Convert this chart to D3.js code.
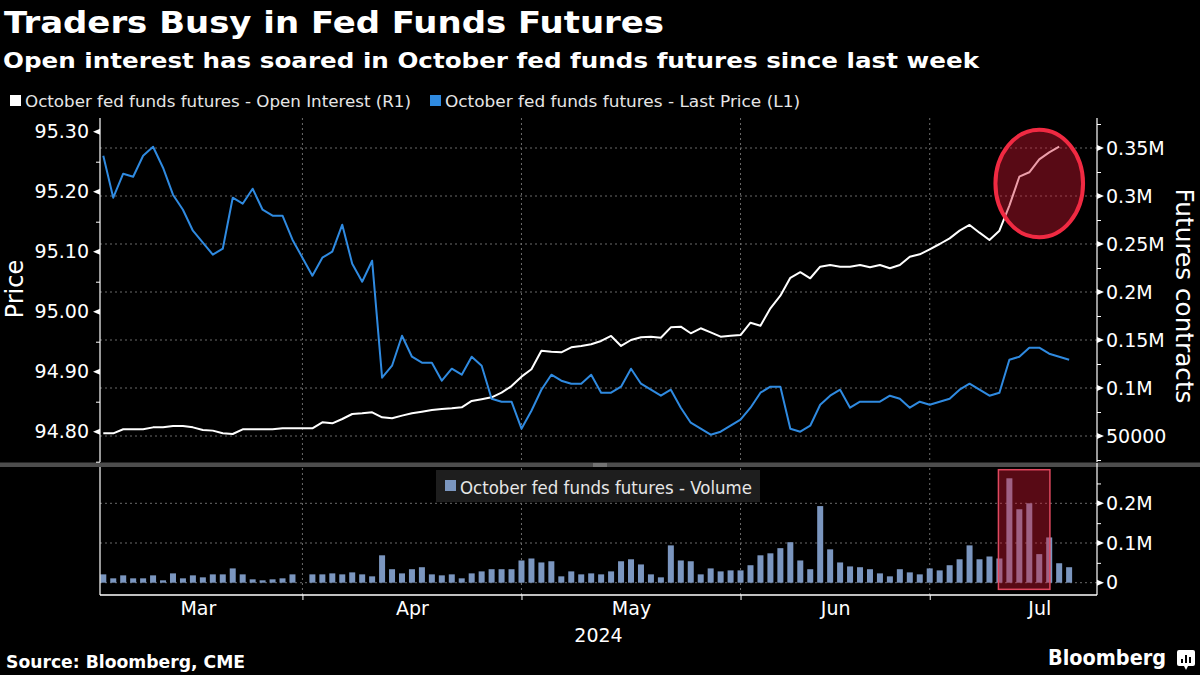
<!DOCTYPE html>
<html><head><meta charset="utf-8">
<script src="https://cdn.jsdelivr.net/npm/d3@7"></script>
<style>
html,body{margin:0;padding:0;background:#000;}
svg{display:block;}
</style>
</head><body>
<svg id="chart" width="1200" height="675"></svg>
<script>
// ---------------- DATA ----------------
const dates = [
"2024-03-01","2024-03-04","2024-03-05","2024-03-06","2024-03-07","2024-03-08","2024-03-11","2024-03-12","2024-03-13","2024-03-14",
"2024-03-15","2024-03-18","2024-03-19","2024-03-20","2024-03-21","2024-03-22","2024-03-25","2024-03-26","2024-03-27","2024-03-28",
"2024-03-29","2024-04-01","2024-04-02","2024-04-03","2024-04-04","2024-04-05","2024-04-08","2024-04-09","2024-04-10","2024-04-11",
"2024-04-12","2024-04-15","2024-04-16","2024-04-17","2024-04-18","2024-04-19","2024-04-22","2024-04-23","2024-04-24","2024-04-25",
"2024-04-26","2024-04-29","2024-04-30","2024-05-01","2024-05-02","2024-05-03","2024-05-06","2024-05-07","2024-05-08","2024-05-09",
"2024-05-10","2024-05-13","2024-05-14","2024-05-15","2024-05-16","2024-05-17","2024-05-20","2024-05-21","2024-05-22","2024-05-23",
"2024-05-24","2024-05-28","2024-05-29","2024-05-30","2024-05-31","2024-06-03","2024-06-04","2024-06-05","2024-06-06","2024-06-07",
"2024-06-10","2024-06-11","2024-06-12","2024-06-13","2024-06-14","2024-06-17","2024-06-18","2024-06-20","2024-06-21","2024-06-24",
"2024-06-25","2024-06-26","2024-06-27","2024-06-28","2024-07-01","2024-07-02","2024-07-03","2024-07-05","2024-07-08","2024-07-09",
"2024-07-10","2024-07-11","2024-07-12","2024-07-15","2024-07-16","2024-07-17","2024-07-18","2024-07-19"
];

// Last price (left axis)
const lastPrice = [
95.260,95.190,95.230,95.225,95.260,95.275,95.240,95.195,95.170,95.135,
95.115,95.095,95.105,95.190,95.180,95.205,95.170,95.160,95.160,95.120,
95.090,95.060,95.090,95.100,95.145,95.080,95.050,95.085,94.890,94.910,
94.960,94.925,94.915,94.915,94.885,94.905,94.895,94.925,94.910,94.855,
94.850,94.850,94.805,94.835,94.870,94.895,94.885,94.880,94.880,94.895,
94.865,94.865,94.875,94.905,94.880,94.870,94.860,94.870,94.840,94.815,
94.805,94.795,94.800,94.810,94.820,94.840,94.865,94.875,94.875,94.805,
94.800,94.810,94.845,94.860,94.870,94.840,94.850,94.850,94.850,94.860,
94.855,94.840,94.850,94.845,94.850,94.855,94.870,94.880,94.870,94.860,
94.865,94.920,94.925,94.940,94.940,94.930,94.925,94.920
];

// Open interest (right axis)
const openInterest = [
52800,52800,57000,57000,57000,59000,59000,60400,60400,59000,
56300,55600,52800,52100,57000,57000,57000,57000,58000,58000,
58000,58000,64200,63200,67700,72900,73600,74700,69500,68400,
71200,73600,75300,77100,78100,78800,79900,86500,88300,90300,
95100,102000,111800,119500,138900,137800,137200,142400,143800,145500,
149000,154200,143800,150000,152800,153500,152400,163200,163900,157000,
162200,158000,153500,154500,155200,168000,164900,183000,196100,214800,
220600,214300,226400,228100,226400,226400,228100,225700,228100,224700,
228100,236800,239300,244500,250000,255900,263900,269800,261800,254200,
263900,290000,320100,324700,338200,345500,351400,null
];

// Volume (lower panel)
const volume = [
21000,11000,18500,11000,11000,18500,6000,23500,11000,18500,
13500,21000,21000,36000,21000,8500,6000,8500,11000,21000,
null,21000,21000,23500,21000,26000,21000,16000,69000,34000,
23500,34000,39000,21000,18500,21000,11000,23500,28500,34000,
34000,34000,56000,61000,51000,54000,16000,28500,21000,23500,
21000,28500,54000,59000,46000,21000,13500,94000,56000,54000,
21000,36000,28500,31000,31000,44000,69000,74000,87000,102000,
56000,34000,193000,84000,51000,41000,39000,34000,23500,16000,
34000,26000,21000,36000,31000,44000,59000,94000,59000,66000,
61000,263000,185000,200000,72000,114000,49000,39000
];

const priceTicks = [94.80, 94.90, 95.00, 95.10, 95.20, 95.30];
const oiTicks = [50000, 100000, 150000, 200000, 250000, 300000, 350000];
const oiTickLabels = ["50000", "0.1M", "0.15M", "0.2M", "0.25M", "0.3M", "0.35M"];
const volTicks = [0, 100000, 200000];
const volTickLabels = ["0", "0.1M", "0.2M"];
const months = ["Mar", "Apr", "May", "Jun", "Jul"];
const monthTradingDays = [21, 22, 22, 19, 22];
const yearLabel = "2024";

// highlight annotations (data space)
const circleIdx = [89.6, 98.4];
const circleOI = [257000, 369000];
const boxIdx = [89.9, 95.07];
const boxVol = [-16700, 284600];

// ---------------- CHART ----------------
const FONT = "'DejaVu Sans', Verdana, sans-serif";
const svg = d3.select("#chart").style("font-family", FONT);
svg.append("rect").attr("width", 1200).attr("height", 675).attr("fill", "#000");

const L = 100, R = 1097, TOP = 118, MID = 462, VTOP = 467, BOT = 595;

const x = d3.scaleLinear().domain([-0.33, 99.8]).range([L, R]);
const yL = d3.scaleLinear().domain([94.8, 95.3]).range([431.7, 131.7]);
const yR = d3.scaleLinear().domain([50000, 350000]).range([436, 148]);
const yV = d3.scaleLinear().domain([0, 200000]).range([582.7, 503.3]);

// month boundaries
const bounds = [-1];
monthTradingDays.forEach(n => bounds.push(bounds[bounds.length - 1] + n));
const monthTicks = bounds.slice(1, months.length);
const monthCenters = months.map((m, i) => (bounds[i] + bounds[i + 1]) / 2);

const defs = svg.append("defs");
defs.append("clipPath").attr("id", "clipTop").append("rect")
  .attr("x", L).attr("y", TOP).attr("width", R - L).attr("height", MID - TOP);
defs.append("clipPath").attr("id", "clipBot").append("rect")
  .attr("x", L).attr("y", VTOP).attr("width", R - L).attr("height", BOT - VTOP);

const GRID = "#6b6b6b";
// horizontal gridlines
svg.append("g").selectAll("line").data(oiTicks).join("line")
  .attr("x1", L).attr("x2", R).attr("y1", d => yR(d)).attr("y2", d => yR(d))
  .attr("stroke", GRID).attr("stroke-width", 1).attr("stroke-dasharray", "2,3");
svg.append("g").selectAll("line").data(volTicks).join("line")
  .attr("x1", L).attr("x2", R).attr("y1", d => yV(d)).attr("y2", d => yV(d))
  .attr("stroke", GRID).attr("stroke-width", 1).attr("stroke-dasharray", "2,3");
// vertical gridlines
svg.append("g").selectAll("line").data(monthTicks).join("line")
  .attr("x1", d => x(d)).attr("x2", d => x(d)).attr("y1", TOP).attr("y2", BOT)
  .attr("stroke", GRID).attr("stroke-width", 1).attr("stroke-dasharray", "2,3");

// volume bars
svg.append("g").attr("clip-path", "url(#clipBot)")
  .selectAll("rect").data(volume.map((v, i) => ({v, i})).filter(d => d.v != null)).join("rect")
  .attr("x", d => x(d.i) - 3).attr("width", 6)
  .attr("y", d => yV(d.v)).attr("height", d => yV(0) - yV(d.v))
  .attr("fill", "#7b96bf");

// lines
const gTop = svg.append("g").attr("clip-path", "url(#clipTop)");
gTop.append("path").datum(openInterest)
  .attr("d", d3.line().defined(d => d != null).x((d, i) => x(i)).y(d => yR(d)))
  .attr("fill", "none").attr("stroke", "#ffffff").attr("stroke-width", 2)
  .attr("stroke-linejoin", "round");
gTop.append("path").datum(lastPrice)
  .attr("d", d3.line().defined(d => d != null).x((d, i) => x(i)).y(d => yL(d)))
  .attr("fill", "none").attr("stroke", "#2f8ae0").attr("stroke-width", 2)
  .attr("stroke-linejoin", "round");

// annotations
svg.append("ellipse")
  .attr("cx", (x(circleIdx[0]) + x(circleIdx[1])) / 2)
  .attr("cy", (yR(circleOI[0]) + yR(circleOI[1])) / 2)
  .attr("rx", (x(circleIdx[1]) - x(circleIdx[0])) / 2)
  .attr("ry", (yR(circleOI[0]) - yR(circleOI[1])) / 2)
  .attr("fill", "rgba(210,25,50,0.42)").attr("stroke", "#f02a42").attr("stroke-width", 4);
svg.append("rect")
  .attr("x", x(boxIdx[0])).attr("width", x(boxIdx[1]) - x(boxIdx[0]))
  .attr("y", yV(boxVol[1])).attr("height", yV(boxVol[0]) - yV(boxVol[1]))
  .attr("fill", "rgba(210,25,50,0.42)").attr("stroke", "#e0485f").attr("stroke-width", 1.5);

// divider
svg.append("rect").attr("x", 0).attr("y", MID + 0.5).attr("width", 1200).attr("height", 4.5).attr("fill", "#4d4d4d");
svg.append("line").attr("x1", 593).attr("x2", 607).attr("y1", 464).attr("y2", 464).attr("stroke", "#9a9a9a").attr("stroke-width", 1);
svg.append("line").attr("x1", 593).attr("x2", 607).attr("y1", 466).attr("y2", 466).attr("stroke", "#9a9a9a").attr("stroke-width", 1);

// ---------- axes ----------
function styleAxis(g, size) {
  g.attr("font-family", FONT).attr("font-size", size);
  g.selectAll("text").attr("fill", "#ffffff");
  g.selectAll("line").attr("stroke", "#ffffff");
  g.select(".domain").remove();
}
// left axis (price)
const gL = svg.append("g").attr("transform", `translate(${L},0)`)
  .call(d3.axisLeft(yL).tickValues(priceTicks).tickFormat(d3.format(".2f")).tickSize(0).tickPadding(11));
styleAxis(gL, 19);
const priceMinor = priceTicks.map(t => t - 0.05);
const gLm = svg.append("g").attr("transform", `translate(${L},0)`)
  .call(d3.axisLeft(yL).tickValues(priceMinor).tickFormat("").tickSize(4));
styleAxis(gLm, 10);
gL.selectAll("path.tri").data(priceTicks).join("path").attr("class", "tri")
  .attr("d", d => `M0,${yL(d) - 3}L-7,${yL(d)}L0,${yL(d) + 3}Z`).attr("fill", "#fff");
svg.append("line").attr("x1", L).attr("x2", L).attr("y1", TOP).attr("y2", MID).attr("stroke", "#fff").attr("stroke-width", 1.2);
svg.append("line").attr("x1", L).attr("x2", L).attr("y1", VTOP).attr("y2", BOT).attr("stroke", "#fff").attr("stroke-width", 1.2);

// right axis (open interest)
const gR = svg.append("g").attr("transform", `translate(${R},0)`)
  .call(d3.axisRight(yR).tickValues(oiTicks).tickFormat((d, i) => oiTickLabels[i]).tickSize(0).tickPadding(9));
styleAxis(gR, 19);
const oiMinor = oiTicks.map(t => t - 25000).concat([oiTicks[oiTicks.length - 1] + 25000]);
const gRm = svg.append("g").attr("transform", `translate(${R},0)`)
  .call(d3.axisRight(yR).tickValues(oiMinor).tickFormat("").tickSize(4));
styleAxis(gRm, 10);
gR.selectAll("path.tri").data(oiTicks).join("path").attr("class", "tri")
  .attr("d", d => `M0,${yR(d) - 3}L7,${yR(d)}L0,${yR(d) + 3}Z`).attr("fill", "#fff");
svg.append("line").attr("x1", R).attr("x2", R).attr("y1", TOP).attr("y2", MID).attr("stroke", "#fff").attr("stroke-width", 1.2);

// right axis (volume)
const gV = svg.append("g").attr("transform", `translate(${R},0)`)
  .call(d3.axisRight(yV).tickValues(volTicks).tickFormat((d, i) => volTickLabels[i]).tickSize(0).tickPadding(9));
styleAxis(gV, 19);
const volMinor = volTicks.map(t => t + 50000);
const gVm = svg.append("g").attr("transform", `translate(${R},0)`)
  .call(d3.axisRight(yV).tickValues(volMinor).tickFormat("").tickSize(4));
styleAxis(gVm, 10);
gV.selectAll("path.tri").data(volTicks).join("path").attr("class", "tri")
  .attr("d", d => `M0,${yV(d) - 3}L7,${yV(d)}L0,${yV(d) + 3}Z`).attr("fill", "#fff");
svg.append("line").attr("x1", R).attr("x2", R).attr("y1", VTOP - 4).attr("y2", BOT).attr("stroke", "#fff").attr("stroke-width", 1.2);

// x axis
svg.append("line").attr("x1", L).attr("x2", R).attr("y1", BOT).attr("y2", BOT).attr("stroke", "#fff").attr("stroke-width", 1.5);
const gX = svg.append("g").attr("transform", `translate(0,${BOT})`)
  .call(d3.axisBottom(x).tickValues(monthTicks).tickFormat("").tickSize(5));
styleAxis(gX, 10);
const gXl = svg.append("g").attr("transform", `translate(0,${BOT})`)
  .call(d3.axisBottom(x).tickValues(monthCenters).tickFormat((d, i) => months[i]).tickSize(0).tickPadding(7));
styleAxis(gXl, 19);
svg.append("text").attr("x", (L + R) / 2).attr("y", 642).attr("text-anchor", "middle")
  .attr("fill", "#fff").attr("font-size", 19).text(yearLabel);

// axis titles
svg.append("text").attr("transform", "translate(23,289) rotate(-90)")
  .attr("text-anchor", "middle").attr("fill", "#fff").attr("font-size", 24)
  .attr("textLength", 59).attr("lengthAdjust", "spacingAndGlyphs").text("Price");
svg.append("text").attr("transform", "translate(1176,296) rotate(90)")
  .attr("text-anchor", "middle").attr("fill", "#fff").attr("font-size", 24)
  .attr("textLength", 215).attr("lengthAdjust", "spacingAndGlyphs").text("Futures contracts");

// ---------- titles ----------
svg.append("text").attr("x", 4).attr("y", 33).attr("fill", "#fff")
  .attr("font-size", 30).attr("font-weight", "bold")
  .attr("textLength", 660).attr("lengthAdjust", "spacingAndGlyphs")
  .text("Traders Busy in Fed Funds Futures");
svg.append("text").attr("x", 3).attr("y", 68).attr("fill", "#fff")
  .attr("font-size", 22).attr("font-weight", "bold")
  .attr("textLength", 976).attr("lengthAdjust", "spacingAndGlyphs")
  .text("Open interest has soared in October fed funds futures since last week");

// ---------- legends ----------
svg.append("rect").attr("x", 10).attr("y", 95).attr("width", 11).attr("height", 11).attr("fill", "#fff");
svg.append("text").attr("x", 25).attr("y", 106.5).attr("fill", "#e6e6e6").attr("font-size", 16)
  .attr("textLength", 386).attr("lengthAdjust", "spacingAndGlyphs")
  .text("October fed funds futures - Open Interest (R1)");
svg.append("rect").attr("x", 430).attr("y", 95).attr("width", 11).attr("height", 11).attr("fill", "#2f8ae0");
svg.append("text").attr("x", 445).attr("y", 106.5).attr("fill", "#e6e6e6").attr("font-size", 16)
  .attr("textLength", 355).attr("lengthAdjust", "spacingAndGlyphs")
  .text("October fed funds futures - Last Price (L1)");

svg.append("rect").attr("x", 436).attr("y", 470).attr("width", 324).attr("height", 32).attr("fill", "#1e1e1e");
svg.append("rect").attr("x", 445).attr("y", 480).attr("width", 11).attr("height", 11).attr("fill", "#7b96bf");
svg.append("text").attr("x", 460).attr("y", 493.5).attr("fill", "#e6e6e6").attr("font-size", 17)
  .attr("textLength", 292).attr("lengthAdjust", "spacingAndGlyphs")
  .text("October fed funds futures - Volume");

// ---------- footer ----------
svg.append("text").attr("x", 6).attr("y", 668).attr("fill", "#fff")
  .attr("font-size", 17).attr("font-weight", "bold")
  .attr("textLength", 239).attr("lengthAdjust", "spacingAndGlyphs")
  .text("Source: Bloomberg, CME");
svg.append("text").attr("x", 1048).attr("y", 665).attr("fill", "#fff")
  .attr("font-size", 21).attr("font-weight", "bold")
  .attr("textLength", 118).attr("lengthAdjust", "spacingAndGlyphs")
  .text("Bloomberg");
const logo = svg.append("g").attr("transform", "translate(1177,650)");
logo.append("rect").attr("width", 18).attr("height", 16).attr("rx", 2).attr("fill", "#fff");
logo.append("path").attr("d", "M7,16L9,20L11,16Z").attr("fill", "#fff");
[[4, 9], [8, 5], [12, 7]].forEach(([bx, by]) =>
  logo.append("rect").attr("x", bx).attr("y", by).attr("width", 2).attr("height", 13 - by).attr("fill", "#000"));
</script>
</body></html>
